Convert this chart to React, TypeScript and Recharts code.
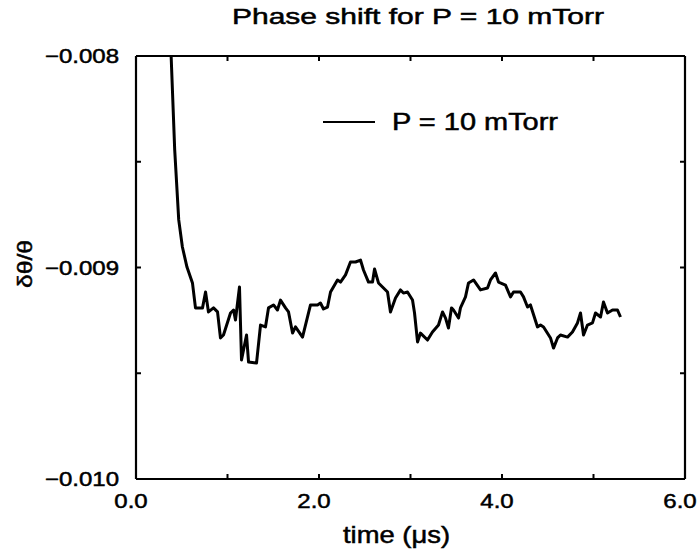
import React from "react";
import { LineChart, Line, XAxis, YAxis, Legend } from "recharts";

const timeUs = [
  0.34, 0.423, 0.467, 0.507, 0.557, 0.617, 0.65, 0.727, 0.76, 0.792, 0.847, 0.891,
  0.923, 0.956, 1.033, 1.066, 1.087, 1.131, 1.153, 1.208, 1.23, 1.317, 1.361, 1.415,
  1.448, 1.503, 1.546, 1.579, 1.634, 1.667, 1.711, 1.743, 1.82, 1.907, 1.984, 2.016,
  2.049, 2.093, 2.126, 2.202, 2.235, 2.29, 2.344, 2.399, 2.454, 2.486, 2.541, 2.585,
  2.607, 2.65, 2.705, 2.749, 2.781, 2.836, 2.891, 2.923, 2.967, 3.022, 3.044, 3.077,
  3.109, 3.186, 3.24, 3.306, 3.35, 3.383, 3.415, 3.448, 3.47, 3.525, 3.546, 3.601,
  3.634, 3.689, 3.765, 3.842, 3.874, 3.929, 3.962, 4.038, 4.093, 4.126, 4.202, 4.235,
  4.279, 4.311, 4.388, 4.421, 4.454, 4.53, 4.563, 4.607, 4.639, 4.716, 4.77, 4.825,
  4.858, 4.891, 4.934, 4.989, 5.022, 5.077, 5.109, 5.153, 5.208, 5.262, 5.295,
];

const phaseShift = [
  -0.0075, -0.008444, -0.008775, -0.008903, -0.008998, -0.009073, -0.009191, -0.009191,
  -0.009116, -0.00921, -0.009191, -0.00921, -0.009333, -0.009319, -0.009215, -0.009201,
  -0.009248, -0.009092, -0.009437, -0.009319, -0.009447, -0.009452, -0.009272, -0.009281,
  -0.009191, -0.009177, -0.009201, -0.009154, -0.009191, -0.00921, -0.00931, -0.009281,
  -0.009329, -0.009177, -0.009177, -0.009168, -0.009196, -0.009187, -0.009116, -0.009059,
  -0.009069, -0.009035, -0.008974, -0.008974, -0.008965, -0.009012, -0.009069, -0.009069,
  -0.009007, -0.009073, -0.009097, -0.009116, -0.00921, -0.009144, -0.009106, -0.009121,
  -0.009116, -0.009154, -0.009215, -0.009352, -0.00931, -0.009343, -0.009305, -0.009272,
  -0.00921, -0.009239, -0.009286, -0.009191, -0.009201, -0.009239, -0.009191, -0.009139,
  -0.009073, -0.009059, -0.009106, -0.009097, -0.009059, -0.009026, -0.009069, -0.009083,
  -0.009139, -0.009116, -0.009116, -0.009139, -0.009187, -0.009177, -0.009281, -0.009272,
  -0.009281, -0.009333, -0.009381, -0.009333, -0.009319, -0.009329, -0.009305, -0.009262,
  -0.009215, -0.009319, -0.009272, -0.009262, -0.009215, -0.009234, -0.009163, -0.009215,
  -0.009201, -0.009201, -0.009234,
];

const xTicks = [0, 1, 2, 3, 4, 5, 6];
const yTicks = [-0.01, -0.0095, -0.009, -0.0085, -0.008];

const FONT = "'Liberation Sans', Arial, sans-serif";
const STRETCH = 1.2; // the scanned lettering is wider than Arial
const INK = { fill: "#000", stroke: "#000", strokeWidth: 0.5 };

const data = timeUs.map((t, i) => ({ t, v: phaseShift[i] }));

const isMajorY = (v: number) => Math.abs(v * 1000 - Math.round(v * 1000)) < 1e-6;

function BottomTick({ x, y, payload }: any) {
  const v = payload.value;
  return (
    <g>
      <line x1={x} y1={y} x2={x} y2={y - 5} stroke="#000" strokeWidth={2} />
      {v % 2 === 0 && (
        <text
          transform={`translate(${x - 5},${y + 29}) scale(${STRETCH},1)`}
          textAnchor="middle"
          fontFamily={FONT}
          fontSize={20}
          {...INK}
        >
          {v.toFixed(1)}
        </text>
      )}
    </g>
  );
}

function TopTick({ x, y }: any) {
  return <line x1={x} y1={y} x2={x} y2={y + 5} stroke="#000" strokeWidth={2} />;
}

function LeftTick({ x, y, payload }: any) {
  const v = payload.value;
  return (
    <g>
      <line x1={x} y1={y} x2={x + 5} y2={y} stroke="#000" strokeWidth={2} />
      {isMajorY(v) && (
        <text
          transform={`translate(${x - 17},${y + 7}) scale(${STRETCH},1)`}
          textAnchor="end"
          fontFamily={FONT}
          fontSize={20}
          {...INK}
        >
          {v.toFixed(3).replace("-", "\u2212")}
        </text>
      )}
    </g>
  );
}

function RightTick({ x, y }: any) {
  return <line x1={x} y1={y} x2={x - 5} y2={y} stroke="#000" strokeWidth={2} />;
}

function LegendBox() {
  return (
    <svg width={260} height={32} style={{ display: "block" }}>
      <line x1={5} y1={16} x2={57} y2={16} stroke="#000" strokeWidth={2} />
      <text
        x={74}
        y={24}
        fontFamily={FONT}
        fontSize={23}
        textLength={166}
        lengthAdjust="spacingAndGlyphs"
        {...INK}
      >
        P = 10 mTorr
      </text>
    </svg>
  );
}

export default function App() {
  const axisLine = { stroke: "#000", strokeWidth: 2.2 };
  return (
    <div style={{ position: "absolute", left: 0, top: 0, background: "#fff" }}>
      <LineChart
        width={697}
        height={556}
        data={data}
        margin={{ top: 55, right: 11, bottom: 76, left: 135 }}
      >
        <XAxis
          xAxisId="bottom"
          dataKey="t"
          type="number"
          domain={[0, 6]}
          ticks={xTicks}
          height={1}
          tickSize={0}
          tickMargin={0}
          tickLine={false}
          axisLine={axisLine}
          tick={<BottomTick />}
          interval={0}
        />
        <XAxis
          xAxisId="top"
          orientation="top"
          dataKey="t"
          type="number"
          domain={[0, 6]}
          ticks={xTicks.slice(1, -1)}
          height={1}
          tickSize={0}
          tickMargin={0}
          tickLine={false}
          axisLine={axisLine}
          tick={<TopTick />}
          interval={0}
        />
        <YAxis
          yAxisId="left"
          type="number"
          domain={[-0.01, -0.008]}
          allowDataOverflow
          ticks={yTicks}
          width={1}
          tickSize={0}
          tickMargin={0}
          tickLine={false}
          axisLine={axisLine}
          tick={<LeftTick />}
          interval={0}
        />
        <YAxis
          yAxisId="right"
          orientation="right"
          type="number"
          domain={[-0.01, -0.008]}
          allowDataOverflow
          ticks={yTicks.slice(1, -1)}
          width={1}
          tickSize={0}
          tickMargin={0}
          tickLine={false}
          axisLine={axisLine}
          tick={<RightTick />}
          interval={0}
        />
        <Legend
          layout="horizontal"
          verticalAlign="middle"
          align="center"
          content={<LegendBox />}
          wrapperStyle={{ position: "absolute", left: 318, top: 106, width: 260 }}
        />
        <Line
          xAxisId="bottom"
          yAxisId="left"
          dataKey="v"
          name="P = 10 mTorr"
          type="linear"
          stroke="#000"
          strokeWidth={3}
          strokeLinejoin="round"
          dot={false}
          activeDot={false}
          isAnimationActive={false}
        />
        <text
          x={232}
          y={24}
          fontFamily={FONT}
          fontSize={22.5}
          textLength={372}
          lengthAdjust="spacingAndGlyphs"
          {...INK}
        >
          Phase shift for P = 10 mTorr
        </text>
        <text
          x={343}
          y={543}
          fontFamily={FONT}
          fontSize={24}
          textLength={107}
          lengthAdjust="spacingAndGlyphs"
          {...INK}
        >
          time (μs)
        </text>
        <text
          transform="translate(32,264) rotate(-90)"
          textAnchor="middle"
          fontFamily={FONT}
          fontSize={21}
          textLength={48}
          lengthAdjust="spacingAndGlyphs"
          {...INK}
        >
          δθ/θ
        </text>
      </LineChart>
    </div>
  );
}
